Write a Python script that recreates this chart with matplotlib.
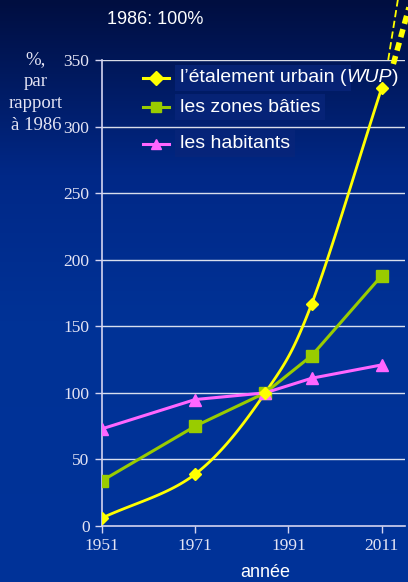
import matplotlib.pyplot as plt
import numpy as np

years = [1951, 1971, 1986, 1996, 2011]
wup = [6, 39, 100, 167, 329]
built = [34, 75, 100, 128, 188]
inhabitants = [73, 95, 100, 111, 121]
labels = ['l\u2019étalement urbain (', 'les zones bâties', 'les habitants']
xticks = [1951, 1971, 1991, 2011]
yticks = [0, 50, 100, 150, 200, 250, 300, 350]

fg = '#d4d4f0'
sans = 'Liberation Sans'
serif = 'Liberation Serif'


def catmull_rom(x, y, n=30):
  # smoothed line through the points, like the office "smoothed line" option
  x = np.asarray(x, float)
  y = np.asarray(y, float)
  px = np.concatenate([[2 * x[0] - x[1]], x, [2 * x[-1] - x[-2]]])
  py = np.concatenate([[2 * y[0] - y[1]], y, [2 * y[-1] - y[-2]]])
  xs, ys = [], []
  for i in range(1, len(px) - 2):
    t = np.linspace(0, 1, n)
    for p, out in ((px, xs), (py, ys)):
      p0, p1, p2, p3 = p[i - 1], p[i], p[i + 1], p[i + 2]
      out.extend(0.5 * ((2 * p1) + (-p0 + p2) * t +
                        (2 * p0 - 5 * p1 + 4 * p2 - p3) * t**2 +
                        (-p0 + 3 * p1 - 3 * p2 + p3) * t**3))
  return np.array(xs), np.array(ys)


fig = plt.figure(figsize=(4.08, 5.82), dpi=100)

# background gradient
bg = fig.add_axes([0, 0, 1, 1], zorder=-10)
stops = np.array([[0, 14, 64], [0, 40, 135], [0, 50, 150], [0, 51, 153]]) / 255
pos = [0, 0.3, 0.55, 1]
g = np.linspace(0, 1, 300)
grad = np.stack([np.interp(g, pos, stops[:, k]) for k in range(3)], axis=1)
bg.imshow(grad[:, None, :], aspect='auto', extent=[0, 1, 0, 1])
bg.axis('off')

ax = fig.add_axes([0.25, 0.0962, 0.7426, 0.8007])
ax.patch.set_alpha(0)
ax.set_xlim(1951, 2016)
ax.set_ylim(0, 350)

for v in yticks[1:]:
  ax.axhline(v, color='white', lw=1, alpha=0.85, zorder=1)

sx, sy = catmull_rom(years, wup)
ax.plot(sx, sy, color='#ffff00', lw=2, zorder=3)
ax.plot(years, wup, 'D', color='#ffff00', ms=6, zorder=4)
ax.plot(years, built, '-s', color='#99cc00', lw=2.2, ms=9, zorder=3)
ax.plot(years, inhabitants, '-^', color='#ff66ff', lw=2.2, ms=8, zorder=3)

# dashed yellow shape leaving the top right corner
ax.plot([2012.4, 2014.6], [350, 398], color='#ffff00', lw=1.3,
        ls=(0, (4, 2)), clip_on=False)
ax.plot([2013.5, 2016.9], [347, 390], color='#ffff00', lw=4,
        ls=(0, (1.5, 1)), clip_on=False)

for s in ['top', 'right']:
  ax.spines[s].set_visible(False)
for s in ['left', 'bottom']:
  ax.spines[s].set_color(fg)
  ax.spines[s].set_linewidth(1.2)
ax.set_xticks(xticks)
ax.set_yticks(yticks)
ax.tick_params(colors=fg, length=5, width=1, labelsize=12.5)
ax.tick_params(axis='y', pad=4)
for lab in ax.get_xticklabels() + ax.get_yticklabels():
  lab.set_family(serif)
  lab.set_color('#e4e4f4')

ax.text(1986, -35, 'année', ha='center', va='center', color='white',
        fontsize=13, family=sans)
fig.text(0.088, 0.913, '%,\npar\nrapport\nà 1986', ha='center', va='top',
         color='#e4e4f4', fontsize=13.5, family=serif, linespacing=1.4)
fig.text(0.262, 0.966, '1986: 100%', ha='left', va='center', color='white',
         fontsize=13, family=sans)

# legend drawn by hand
colors = ['#ffff00', '#99cc00', '#ff66ff']
markers = ['D', 's', '^']
rows = [0.866, 0.816, 0.753]
for lab, c, m, yy in zip(labels, colors, markers, rows):
  fig.add_artist(plt.Line2D([0.35, 0.415], [yy, yy], color=c, lw=2.2))
  fig.add_artist(plt.Line2D([0.3825], [yy], marker=m, color=c, ms=7))
  fig.text(0.44, yy, lab, ha='left', va='center', color='white',
           fontsize=14, family=sans,
           bbox=dict(boxstyle='square,pad=0.25', fc='#08257a', ec='none',
                     alpha=0.8))
t = fig.text(0.44, rows[0], labels[0], ha='left', va='center', alpha=0,
             fontsize=14, family=sans)
fig.canvas.draw()
bb = t.get_window_extent().transformed(fig.transFigure.inverted())
t2 = fig.text(bb.x1, rows[0], 'WUP', ha='left', va='center', color='white',
              fontsize=14, family=sans, style='italic')
fig.canvas.draw()
bb2 = t2.get_window_extent().transformed(fig.transFigure.inverted())
fig.text(bb2.x1, rows[0], ')', ha='left', va='center', color='white',
         fontsize=14, family=sans)

fig.savefig('out.png', dpi=100)
